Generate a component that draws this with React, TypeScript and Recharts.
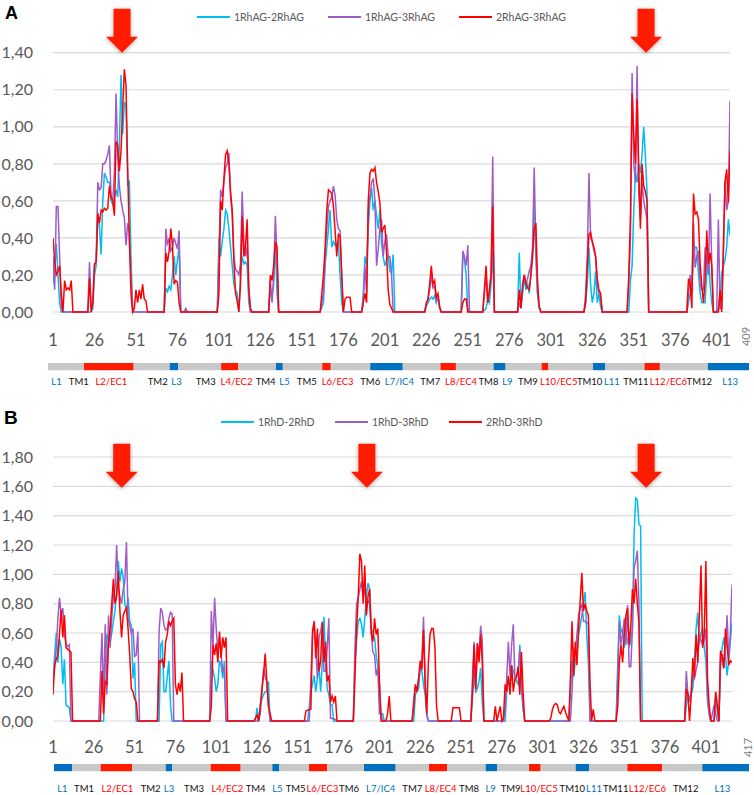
import React from "react";
import { Bar, BarChart, CartesianGrid, Line, LineChart, ReferenceDot, XAxis, YAxis } from "recharts";

type Pt = [number, number];

// ---- panel A: RhAG trimer, 409 residues ----
const rhagLength = 409;
const rhagXTicks = [1, 26, 51, 76, 101, 126, 151, 176, 201, 226, 251, 276, 301, 326, 351, 376, 401];
const rhagYTicks = [0, 0.2, 0.4, 0.6, 0.8, 1.0, 1.2, 1.4];
const rhagNames = ["1RhAG-2RhAG", "1RhAG-3RhAG", "2RhAG-3RhAG"];
const rhagArrows = [42.6, 358.4];
const rhagArrowTip = 1.4;

const rhag12: Pt[] = [
  [1, 0.15], [2, 0.22], [3, 0.37], [4, 0.2], [5, 0.05], [6, 0],
  [24, 0], [25, 0.02], [26, 0.2], [27, 0.25], [28, 0.54], [29, 0.46], [30, 0.31], [31, 0.6], [32, 0.75], [33, 0.73], [34, 0.7], [35, 0.7], [36, 0.6], [37, 0.58], [38, 0.62], [39, 0.66], [40, 0.62], [41, 0.9], [42, 1.28], [43, 0.96], [44, 1.13], [45, 1.12], [46, 0.68], [47, 0.71], [48, 0.3], [49, 0],
  [68, 0], [69, 0.13], [70, 0.11], [71, 0.14], [72, 0.12], [73, 0.2], [74, 0.3], [75, 0.2], [76, 0.28], [77, 0.35], [78, 0],
  [100, 0], [101, 0.4], [102, 0.3], [103, 0.38], [104, 0.45], [105, 0.55], [106, 0.53], [107, 0.45], [108, 0.35], [109, 0.25], [110, 0.15], [111, 0.12], [112, 0.1], [113, 0], [114, 0.2], [115, 0.3], [116, 0.26], [117, 0.27], [118, 0.25], [119, 0.05], [120, 0],
  [131, 0], [132, 0.13], [133, 0.08], [134, 0.15], [135, 0.37], [136, 0.1], [137, 0],
  [162, 0], [164, 0.05], [165, 0.25], [166, 0.35], [167, 0.45], [168, 0.55], [169, 0.35], [170, 0.38], [171, 0.36], [172, 0.37], [173, 0.38], [174, 0.2], [175, 0.05], [176, 0],
  [187, 0], [188, 0.1], [189, 0.3], [190, 0.25], [191, 0.45], [192, 0.6], [193, 0.67], [194, 0.55], [195, 0.6], [196, 0.52], [197, 0.45], [198, 0.55], [199, 0.37], [200, 0.3], [201, 0.25], [202, 0.28], [203, 0.3], [204, 0.22], [205, 0.21], [206, 0.31], [207, 0],
  [225, 0], [226, 0.03], [227, 0.05], [228, 0.07], [229, 0.08], [230, 0.07], [231, 0.09], [232, 0.05], [233, 0.08], [234, 0.02], [235, 0],
  [247, 0], [248, 0.32], [249, 0.28], [250, 0.2], [251, 0.02], [252, 0],
  [260, 0], [262, 0.02], [263, 0.07], [264, 0.05], [265, 0.15], [266, 0.33], [267, 0],
  [281, 0], [282, 0.32], [283, 0.02], [284, 0.1], [285, 0.18], [286, 0.12], [287, 0.16], [288, 0.1], [289, 0.2], [290, 0.3], [291, 0.57], [292, 0.3], [293, 0.1], [294, 0.02], [295, 0],
  [321, 0], [322, 0.05], [323, 0.15], [324, 0.35], [325, 0.15], [326, 0.05], [327, 0.1], [328, 0.22], [329, 0.05], [330, 0.1], [331, 0.03], [332, 0],
  [348, 0], [349, 0.17], [350, 0.25], [351, 0.55], [352, 0.75], [353, 0.7], [354, 0.8], [355, 0.75], [356, 0.85], [357, 1.0], [358, 0.84], [359, 0.65], [360, 0],
  [383, 0], [384, 0.05], [385, 0.1], [386, 0.12], [387, 0.3], [388, 0.35], [389, 0.35], [390, 0.21], [391, 0.1], [392, 0.05], [393, 0.05], [394, 0.05], [395, 0.21], [396, 0.35], [397, 0.15], [398, 0.05], [399, 0], [401, 0], [402, 0.02], [403, 0.1], [404, 0.21], [405, 0.25], [406, 0.28], [407, 0.35], [408, 0.5], [409, 0.41],
];

const rhag13: Pt[] = [
  [1, 0.3], [2, 0.12], [3, 0.57], [4, 0.57], [5, 0.3], [6, 0.02], [7, 0],
  [22, 0], [23, 0.27], [24, 0.02], [25, 0.05], [26, 0.25], [27, 0.27], [28, 0.7], [29, 0.66], [30, 0.67], [31, 0.8], [32, 0.8], [33, 0.82], [34, 0.85], [35, 0.9], [36, 0.62], [37, 0.6], [38, 0.75], [39, 1.18], [40, 0.84], [41, 0.68], [42, 0.6], [43, 0.55], [44, 0.51], [45, 0.36], [46, 0.48], [47, 0.43], [48, 0.2], [49, 0.02], [50, 0],
  [68, 0], [69, 0.45], [70, 0.36], [71, 0.4], [72, 0.33], [73, 0.35], [74, 0.4], [75, 0.37], [76, 0.34], [77, 0.44], [78, 0], [80, 0], [81, 0.02], [82, 0],
  [100, 0], [101, 0.3], [102, 0.66], [103, 0.62], [104, 0.7], [105, 0.78], [106, 0.8], [107, 0.86], [108, 0.62], [109, 0.53], [110, 0.3], [111, 0.23], [112, 0.22], [113, 0.2], [114, 0.26], [115, 0.65], [116, 0.38], [117, 0.3], [118, 0.35], [119, 0.1], [120, 0],
  [131, 0], [132, 0.17], [133, 0.05], [134, 0.2], [135, 0.52], [136, 0.3], [137, 0],
  [162, 0], [164, 0.1], [165, 0.3], [166, 0.45], [167, 0.57], [168, 0.6], [169, 0.62], [170, 0.68], [171, 0.63], [172, 0.5], [173, 0.45], [174, 0.44], [175, 0.2], [176, 0],
  [187, 0], [188, 0.05], [189, 0.25], [190, 0.1], [191, 0.55], [192, 0.62], [193, 0.7], [194, 0.72], [195, 0.6], [196, 0.25], [197, 0.34], [198, 0.45], [199, 0.5], [200, 0.3], [201, 0.38], [202, 0.42], [203, 0.3], [204, 0.3], [205, 0.21], [206, 0],
  [225, 0], [226, 0.04], [227, 0.07], [228, 0.12], [229, 0.2], [230, 0.13], [231, 0.14], [232, 0.06], [233, 0.08], [234, 0.02], [235, 0],
  [247, 0], [248, 0.33], [249, 0.3], [250, 0.25], [251, 0.36], [252, 0],
  [260, 0], [262, 0.2], [263, 0.05], [264, 0.1], [265, 0.2], [266, 0.84], [267, 0],
  [281, 0], [282, 0.05], [283, 0.02], [284, 0.12], [285, 0.2], [286, 0.15], [287, 0.18], [288, 0.22], [289, 0.25], [290, 0.35], [291, 0.78], [292, 0.35], [293, 0.1], [294, 0.03], [295, 0],
  [321, 0], [322, 0.1], [323, 0.3], [324, 0.75], [325, 0.4], [326, 0.38], [327, 0.33], [328, 0.3], [329, 0.15], [330, 0.1], [331, 0.08], [332, 0],
  [347, 0], [348, 0.15], [349, 0.4], [350, 1.29], [351, 0.8], [352, 0.7], [353, 1.33], [354, 0.64], [355, 0.5], [356, 0.7], [357, 0.6], [358, 0.55], [359, 0.5], [360, 0],
  [383, 0], [384, 0.1], [385, 0.2], [386, 0.1], [387, 0.48], [388, 0.24], [389, 0.3], [390, 0.33], [391, 0.15], [392, 0.12], [393, 0.12], [394, 0.35], [395, 0.26], [396, 0.2], [397, 0.64], [398, 0.26], [399, 0], [401, 0], [402, 0.5], [403, 0.02], [404, 0.02], [405, 0.3], [406, 0.71], [407, 0.55], [408, 0.6], [409, 1.14],
];

const rhag23: Pt[] = [
  [1, 0.4], [2, 0.28], [3, 0.2], [4, 0.22], [5, 0.25], [6, 0.1], [7, 0], [8, 0.17], [9, 0.12], [10, 0.13], [11, 0.12], [12, 0.17], [13, 0],
  [22, 0], [23, 0.18], [24, 0], [25, 0.05], [26, 0.26], [27, 0.27], [28, 0.53], [29, 0.48], [30, 0.55], [31, 0.54], [32, 0.56], [33, 0.55], [34, 0.56], [35, 0.68], [36, 0.62], [37, 0.6], [38, 0.52], [39, 0.92], [40, 0.9], [41, 0.76], [42, 0.87], [43, 1.1], [44, 1.31], [45, 1.22], [46, 0.78], [47, 0.4], [48, 0.1], [49, 0], [50, 0.02], [51, 0.12], [52, 0.05], [53, 0.12], [54, 0.07], [55, 0.15], [56, 0.07], [57, 0.06], [58, 0],
  [68, 0], [69, 0.32], [70, 0.27], [71, 0.33], [72, 0.45], [73, 0.36], [74, 0.15], [75, 0.17], [76, 0.16], [77, 0.05], [78, 0],
  [100, 0], [101, 0.1], [102, 0.6], [103, 0.55], [104, 0.72], [105, 0.85], [106, 0.87], [107, 0.8], [108, 0.65], [109, 0.55], [110, 0.28], [111, 0.1], [112, 0.06], [113, 0], [114, 0.15], [115, 0.52], [116, 0.3], [117, 0.35], [118, 0.5], [119, 0.13], [120, 0.02], [121, 0],
  [131, 0], [132, 0.2], [133, 0.17], [134, 0.25], [135, 0.38], [136, 0.35], [137, 0],
  [162, 0], [163, 0.1], [164, 0.2], [165, 0.35], [166, 0.55], [167, 0.66], [168, 0.65], [169, 0.64], [170, 0.57], [171, 0.44], [172, 0.3], [173, 0.42], [174, 0.41], [175, 0.2], [176, 0], [177, 0.07], [178, 0.08], [180, 0.08], [181, 0],
  [187, 0], [188, 0.05], [189, 0.1], [190, 0.05], [191, 0.6], [192, 0.75], [193, 0.77], [194, 0.76], [195, 0.78], [196, 0.7], [197, 0.65], [198, 0.59], [199, 0.43], [200, 0.45], [201, 0.47], [202, 0.32], [203, 0.12], [204, 0.04], [205, 0.02], [206, 0],
  [225, 0], [226, 0.05], [227, 0.07], [228, 0.15], [229, 0.25], [230, 0.15], [231, 0.17], [232, 0.08], [233, 0.1], [234, 0.03], [235, 0],
  [247, 0], [248, 0.05], [249, 0.07], [250, 0.07], [251, 0],
  [260, 0], [262, 0.25], [263, 0.05], [264, 0.12], [265, 0.2], [266, 0.57], [267, 0],
  [281, 0], [282, 0.12], [283, 0.02], [284, 0.15], [285, 0.2], [286, 0.15], [287, 0.13], [288, 0.12], [289, 0.2], [290, 0.3], [291, 0.45], [292, 0.48], [293, 0.17], [294, 0.03], [295, 0],
  [321, 0], [322, 0.05], [323, 0.25], [324, 0.42], [325, 0.43], [326, 0.38], [327, 0.35], [328, 0.3], [329, 0.18], [330, 0.12], [331, 0.1], [332, 0],
  [347, 0], [348, 0.2], [349, 0.5], [350, 1.18], [351, 0.96], [352, 0.8], [353, 1.15], [354, 0.78], [355, 0.45], [356, 0.8], [357, 0.68], [358, 0.65], [359, 0.6], [360, 0],
  [383, 0], [384, 0.18], [385, 0.15], [386, 0.02], [387, 0.64], [388, 0.53], [389, 0.54], [390, 0.5], [391, 0.26], [392, 0.14], [393, 0.05], [394, 0.17], [395, 0.44], [396, 0.26], [397, 0.32], [398, 0.25], [399, 0], [402, 0], [403, 0.12], [404, 0], [405, 0.35], [406, 0.7], [407, 0.77], [408, 0.59], [409, 0.87],
];

// ---- panel B: RhD trimer, 417 residues ----
const rhdLength = 417;
const rhdXTicks = [1, 26, 51, 76, 101, 126, 151, 176, 201, 226, 251, 276, 301, 326, 351, 376, 401];
const rhdYTicks = [0, 0.2, 0.4, 0.6, 0.8, 1.0, 1.2, 1.4, 1.6, 1.8];
const rhdNames = ["1RhD-2RhD", "1RhD-3RhD", "2RhD-3RhD"];
const rhdArrows = [43.1, 193.3, 364.4];
const rhdArrowTip = 1.59;

const rhd12: Pt[] = [
  [1, 0.26], [2, 0.45], [3, 0.6], [4, 0.4], [5, 0.56], [6, 0.5], [7, 0.25], [8, 0.42], [9, 0.11], [10, 0.1], [11, 0.09], [12, 0],
  [32, 0], [33, 0.4], [34, 0.59], [35, 0.55], [36, 0.54], [37, 0.6], [38, 0.68], [39, 0.75], [40, 0.9], [41, 1.09], [42, 0.95], [43, 1.04], [44, 0.98], [45, 0.8], [46, 0.75], [47, 0.84], [48, 0.68], [49, 0.65], [50, 0.29], [51, 0.4], [52, 0],
  [66, 0], [67, 0.52], [68, 0.54], [69, 0.2], [70, 0.2], [71, 0.3], [72, 0.41], [73, 0.11], [74, 0],
  [97, 0], [98, 0.41], [99, 0.35], [100, 0.29], [101, 0.2], [102, 0.25], [103, 0.41], [104, 0.38], [105, 0.29], [106, 0.41], [107, 0],
  [125, 0], [126, 0.09], [127, 0], [128, 0.11], [129, 0.15], [130, 0.18], [131, 0.2], [132, 0.2], [133, 0.27], [134, 0],
  [157, 0], [158, 0.1], [159, 0.2], [160, 0.25], [161, 0.31], [162, 0.2], [163, 0.3], [164, 0.36], [165, 0.2], [166, 0.41], [167, 0.71], [168, 0.41], [169, 0.22], [170, 0.18], [171, 0.11], [172, 0.11], [173, 0],
  [185, 0], [186, 0.41], [187, 0.55], [188, 0.68], [189, 0.7], [190, 0.66], [191, 0.57], [192, 0.7], [193, 0.85], [194, 0.94], [195, 0.9], [196, 0.63], [197, 0.6], [198, 0.57], [199, 0.45], [200, 0.37], [201, 0.25], [202, 0.05], [203, 0.05], [204, 0],
  [222, 0], [223, 0.18], [224, 0.2], [225, 0.22], [226, 0.37], [227, 0.34], [228, 0.25], [229, 0.18], [230, 0.05], [231, 0],
  [257, 0], [258, 0.15], [259, 0.34], [260, 0.2], [261, 0.22], [262, 0.27], [263, 0.36], [264, 0.13], [265, 0],
  [278, 0], [279, 0.2], [280, 0.29], [281, 0.25], [282, 0.38], [283, 0.34], [284, 0.3], [285, 0.27], [286, 0.25], [287, 0.52], [288, 0.22], [289, 0.08], [290, 0],
  [317, 0], [318, 0.18], [319, 0.41], [320, 0.3], [321, 0.41], [322, 0.45], [323, 0.59], [324, 0.65], [325, 0.72], [326, 0.8], [327, 0.88], [328, 0.59], [329, 0.4], [330, 0],
  [346, 0], [347, 0.4], [348, 0.72], [349, 0.6], [350, 0.63], [351, 0.5], [352, 0.59], [353, 0.55], [354, 0.5], [355, 0.55], [356, 0.63], [357, 1.27], [358, 1.52], [359, 1.51], [360, 1.34], [361, 1.33], [362, 0],
  [388, 0], [389, 0.1], [390, 0.2], [391, 0.15], [392, 0.18], [393, 0.22], [394, 0.4], [395, 0.63], [396, 0.74], [397, 0.52], [398, 0.6], [399, 0.63], [400, 0.5], [401, 0.41], [402, 0.13], [403, 0.05], [404, 0], [406, 0], [407, 0.18], [408, 0.06], [409, 0], [410, 0.41], [411, 0.5], [412, 0.57], [413, 0.45], [414, 0.31], [415, 0.41], [416, 0.55], [417, 0.67],
];

const rhd13: Pt[] = [
  [1, 0.3], [2, 0.36], [3, 0.5], [4, 0.7], [5, 0.84], [6, 0.72], [7, 0.77], [8, 0.59], [9, 0.52], [10, 0.51], [11, 0.52], [12, 0],
  [29, 0], [30, 0.3], [31, 0.6], [32, 0.11], [33, 0.66], [34, 0.18], [35, 0.72], [36, 0.5], [37, 0.7], [38, 0.85], [39, 0.9], [40, 1.2], [41, 0.9], [42, 0.85], [43, 0.8], [44, 0.9], [45, 0.95], [46, 1.22], [47, 0.7], [48, 0.65], [49, 0.6], [50, 0.63], [51, 0.44], [52, 0.45], [53, 0.61], [54, 0],
  [65, 0], [66, 0.61], [67, 0.77], [68, 0.74], [69, 0.65], [70, 0.62], [71, 0.63], [72, 0.7], [73, 0.74], [74, 0.73], [75, 0],
  [97, 0], [98, 0.75], [99, 0.5], [100, 0.84], [101, 0.63], [102, 0.47], [103, 0.57], [104, 0.45], [105, 0.34], [106, 0.36], [107, 0],
  [127, 0], [128, 0.05], [129, 0.2], [130, 0.36], [131, 0.3], [132, 0.27], [133, 0.11], [134, 0],
  [158, 0], [159, 0.29], [160, 0.59], [161, 0.68], [162, 0.5], [163, 0.29], [164, 0.57], [165, 0.61], [166, 0.68], [167, 0.34], [168, 0.34], [169, 0.5], [170, 0.7], [171, 0.02], [174, 0.01], [175, 0],
  [185, 0], [186, 0.5], [187, 0.8], [188, 0.84], [189, 0.9], [190, 0.95], [191, 0.85], [192, 0.9], [193, 0.8], [194, 0.82], [195, 0.8], [196, 0.6], [197, 0.47], [198, 0.45], [199, 0.31], [200, 0.36], [201, 0.05], [202, 0.05], [203, 0],
  [221, 0], [222, 0.15], [223, 0.24], [224, 0.2], [225, 0.29], [226, 0.35], [227, 0.43], [228, 0.71], [229, 0.29], [230, 0.04], [231, 0],
  [257, 0], [258, 0.3], [259, 0.54], [260, 0.2], [261, 0.53], [262, 0.45], [263, 0.65], [264, 0.55], [265, 0],
  [277, 0], [278, 0.1], [279, 0.3], [280, 0.54], [281, 0.31], [282, 0.52], [283, 0.66], [284, 0.29], [285, 0.31], [286, 0.34], [287, 0.49], [288, 0.27], [289, 0.1], [290, 0],
  [318, 0], [319, 0.2], [320, 0.5], [321, 0.45], [322, 0.59], [323, 0.72], [324, 0.77], [325, 0.8], [326, 0.68], [327, 0.68], [328, 0.67], [329, 0.67], [330, 0],
  [346, 0], [347, 0.3], [348, 0.68], [349, 0.52], [350, 0.6], [351, 0.7], [352, 0.52], [353, 0.79], [354, 0.37], [355, 0.37], [356, 0.63], [357, 1.05], [358, 1.09], [359, 1.16], [360, 0.8], [361, 0],
  [388, 0], [389, 0.34], [390, 0.18], [391, 0.13], [392, 0.2], [393, 0.31], [394, 0.29], [395, 0.35], [396, 0.4], [397, 0.59], [398, 0.55], [399, 0.52], [400, 0.55], [401, 0.63], [402, 0.18], [403, 0.05], [404, 0], [405, 0.05], [406, 0.11], [407, 0.05], [408, 0], [409, 0], [410, 0.47], [411, 0.4], [412, 0.36], [413, 0.5], [414, 0.72], [415, 0.41], [416, 0.6], [417, 0.93],
];

const rhd23: Pt[] = [
  [1, 0.18], [2, 0.38], [3, 0.42], [4, 0.45], [5, 0.6], [6, 0.76], [7, 0.57], [8, 0.72], [9, 0.5], [10, 0.49], [11, 0.48], [12, 0.47], [13, 0],
  [30, 0], [31, 0.34], [32, 0.05], [33, 0.27], [34, 0.25], [35, 0.52], [36, 0.63], [37, 0.8], [38, 0.97], [39, 0.8], [40, 0.85], [41, 1.02], [42, 0.75], [43, 0.57], [44, 0.72], [45, 0.75], [46, 0.77], [47, 0.63], [48, 0.45], [49, 0.22], [50, 0.2], [51, 0.15], [52, 0.13], [53, 0],
  [65, 0], [66, 0.41], [67, 0.4], [68, 0.42], [69, 0.36], [70, 0.54], [71, 0.59], [72, 0.68], [73, 0.65], [74, 0.68], [75, 0.7], [76, 0.25], [77, 0.18], [78, 0.26], [79, 0.2], [80, 0.33], [81, 0],
  [97, 0], [98, 0.1], [99, 0.52], [100, 0.45], [101, 0.53], [102, 0.4], [103, 0.61], [104, 0.43], [105, 0.57], [106, 0.5], [107, 0.57], [108, 0],
  [124, 0], [126, 0.04], [127, 0], [128, 0.1], [129, 0.22], [130, 0.31], [131, 0.46], [132, 0.27], [133, 0.1], [134, 0.05], [135, 0],
  [155, 0], [156, 0.07], [159, 0.08], [160, 0.61], [161, 0.68], [162, 0.43], [163, 0.63], [164, 0.34], [165, 0.41], [166, 0.67], [167, 0.4], [168, 0.54], [169, 0.27], [170, 0.31], [171, 0.13], [172, 0.17], [173, 0.13], [174, 0.17], [175, 0],
  [185, 0], [186, 0.3], [187, 0.63], [188, 0.84], [189, 1.14], [190, 1.09], [191, 0.8], [192, 1.06], [193, 0.72], [194, 0.85], [195, 0.9], [196, 0.6], [197, 0.54], [198, 0.7], [199, 0.59], [200, 0.63], [201, 0.27], [202, 0], [205, 0], [206, 0.05], [207, 0.17], [208, 0],
  [221, 0], [222, 0.1], [223, 0.25], [224, 0.2], [225, 0.29], [226, 0.41], [227, 0.35], [228, 0.62], [229, 0.25], [230, 0.05], [231, 0.4], [232, 0.59], [233, 0.63], [234, 0.63], [235, 0.5], [236, 0.1], [237, 0],
  [245, 0], [246, 0.09], [250, 0.09], [251, 0],
  [257, 0], [258, 0.2], [259, 0.52], [260, 0.22], [261, 0.53], [262, 0.4], [263, 0.59], [264, 0.4], [265, 0],
  [271, 0], [272, 0.1], [273, 0], [275, 0.1], [276, 0], [277, 0.02], [278, 0.25], [279, 0.2], [280, 0.31], [281, 0.18], [282, 0.38], [283, 0.2], [284, 0.28], [285, 0.3], [286, 0.37], [287, 0.18], [288, 0.47], [289, 0.2], [290, 0],
  [305, 0], [306, 0.02], [307, 0.08], [308, 0.11], [309, 0.12], [310, 0.11], [311, 0.06], [312, 0.05], [313, 0.08], [314, 0.1], [315, 0.06], [316, 0.03], [317, 0], [318, 0.29], [319, 0.68], [320, 0.31], [321, 0.54], [322, 0.38], [323, 0.63], [324, 0.82], [325, 1.01], [326, 0.75], [327, 0.8], [328, 0.75], [329, 0.72], [330, 0.26], [331, 0], [332, 0.08], [333, 0],
  [346, 0], [347, 0.1], [348, 0.4], [349, 0.52], [350, 0.4], [351, 0.59], [352, 0.72], [353, 0.77], [354, 0.52], [355, 0.65], [356, 0.9], [357, 0.8], [358, 0.97], [359, 0.8], [360, 0.67], [361, 0],
  [388, 0], [389, 0.22], [390, 0.18], [391, 0], [392, 0.18], [393, 0.43], [394, 0.3], [395, 0.59], [396, 0.4], [397, 0.72], [398, 1.06], [399, 0.5], [400, 0.6], [401, 1.09], [402, 0.29], [403, 0.11], [404, 0], [406, 0], [407, 0.2], [408, 0.11], [409, 0], [410, 0.47], [411, 0.45], [412, 0.36], [413, 0.63], [414, 0.52], [415, 0.38], [416, 0.41], [417, 0.4],
];

// ---- topology bars (segment lengths in residues) ----
const topoNames = ["L1", "TM1", "L2/EC1", "TM2", "L3", "TM3", "L4/EC2", "TM4", "L5", "TM5", "L6/EC3", "TM6", "L7/IC4", "TM7", "L8/EC4", "TM8", "L9", "TM9", "L10/EC5", "TM10", "L11", "TM11", "L12/EC6", "TM12", "L13"];
const rhagTopoLens = [21, 29, 21, 5, 25, 10, 22, 4, 23, 5, 23, 19, 22, 9, 22, 7, 21, 4, 26, 7, 23, 9, 28, 24];
const rhagTopoKinds = "grgbgrgbgrgbgrgbgrgbgrgb".split("");
const rhagTopoLabelPos = [5, 18, 37, 64, 75, 92, 110, 127, 138, 151, 169, 188, 205, 223, 241, 257, 268, 280, 298, 316, 329, 343, 362, 380, 398];
const rhdTopoLens = [11, 17, 19, 20, 4, 23, 18, 19, 4, 18, 11, 22, 19, 20, 11, 23, 7, 19, 7, 21, 8, 23, 21, 24, 28];
const rhdTopoKinds = "bgrgbgrgbgrgbgrgbgrgbgrgb".split("");
const rhdTopoLabelPos = [5, 18, 38, 58, 69, 84, 104, 121, 134, 145, 161, 177, 196, 215, 232, 249, 262, 274, 291, 311, 324, 337, 356, 379, 401];

const lineColors = ["#00BDF2", "#A05CC6", "#FF0000"];
const segColors: Record<string, string> = { g: "#C8C8C8", r: "#FF1A00", b: "#0070C0" };
const FONT = "Lato, 'Noto Sans', sans-serif";

const toPts = (s: Pt[]) => s.map(([r, v]) => ({ r, v }));
const fmt = (v: number) => v.toFixed(2).replace(".", ",");
const labelColor = (n: string) => (n.startsWith("TM") ? "#111111" : n.includes("/EC") ? "#FF0000" : "#0070C0");

const Arrow = (p: any) => {
  const { cx, cy, fid } = p;
  const sw = 8.5, hw = 16, hh = 16, tot = 44;
  const pts = [
    [cx - sw, cy - tot], [cx + sw, cy - tot], [cx + sw, cy - hh], [cx + hw, cy - hh],
    [cx, cy], [cx - hw, cy - hh], [cx - sw, cy - hh],
  ].map((q) => q.join(",")).join(" ");
  return <polygon points={pts} fill="#FF1A00" filter={`url(#${fid})`} />;
};

function makeXTick(length: number, endDy: number) {
  return (p: any) => {
    const { x, y, payload } = p;
    if (payload.value === length) {
      return (
        <text transform={`translate(${x + 15},${y + endDy}) rotate(-90)`} textAnchor="middle" dominantBaseline="central" fontSize={11} fill="#7F7F7F" fontFamily={FONT}>
          {length}
        </text>
      );
    }
    return (
      <text x={x} y={y} dy="0.72em" textAnchor="middle" fontSize={16.5} fill="#595959" fontFamily={FONT}>
        {payload.value}
      </text>
    );
  };
}

function Legend({ top, left, names, itemW }: { top: number; left: number; names: string[]; itemW: number }) {
  return (
    <div style={{ position: "absolute", top, left, display: "flex", alignItems: "center", height: 14, fontFamily: FONT, fontSize: 10.5, color: "#595959" }}>
      {names.map((n, i) => (
        <div key={n} style={{ display: "flex", alignItems: "center", width: itemW }}>
          <span style={{ display: "inline-block", width: 33, height: 2, background: lineColors[i], marginRight: 4 }} />
          <span>{n}</span>
        </div>
      ))}
    </div>
  );
}

function Trace(props: {
  top: number; height: number; margin: { top: number; right: number; bottom: number; left: number };
  length: number; yMax: number; yTicks: number[]; xTicks: number[]; series: Pt[][];
  arrows: number[]; arrowTip: number; tickGap: number; endDy: number; fid: string;
}) {
  const { top, height, margin, length, yMax, yTicks, xTicks, series, arrows, arrowTip, tickGap, endDy, fid } = props;
  return (
    <div style={{ position: "absolute", left: 0, top }}>
      <LineChart width={754} height={height} margin={margin}>
        <defs>
          <filter id={fid} x="-50%" y="-50%" width="200%" height="200%">
            <feDropShadow dx="0" dy="1" stdDeviation="2" floodColor="#000" floodOpacity="0.35" />
          </filter>
        </defs>
        <CartesianGrid vertical={false} stroke="#D9D9D9" strokeWidth={1.2} />
        <XAxis
          dataKey="r" type="number" domain={[1, length]} ticks={[...xTicks, length]} interval={0}
          axisLine={false} tickLine={false} tickSize={0} tickMargin={tickGap} height={30}
          tick={makeXTick(length, endDy)} allowDataOverflow
        />
        <YAxis
          type="number" domain={[0, yMax]} ticks={yTicks} interval={0} width={45}
          axisLine={false} tickLine={false} tickSize={0} tickMargin={20} tickFormatter={fmt}
          tick={{ fontSize: 16, fill: "#595959", fontFamily: FONT }}
        />
        {series.map((s, i) => (
          <Line key={i} data={toPts(s)} dataKey="v" type="linear" stroke={lineColors[i]} strokeWidth={1.5} dot={false} activeDot={false} isAnimationActive={false} />
        ))}
        {arrows.map((a) => (
          <ReferenceDot key={a} x={a} y={arrowTip} r={0} ifOverflow="visible" shape={(p: any) => <Arrow {...p} fid={fid} />} />
        ))}
      </LineChart>
    </div>
  );
}

function Topology(props: {
  top: number; left: number; right: number; lens: number[]; kinds: string[];
  total: number; labelPos: number[]; labelDy: number;
}) {
  const { top, left, right, lens, kinds, total, labelPos, labelDy } = props;
  const row: Record<string, any> = { name: "topo" };
  lens.forEach((l, i) => (row["s" + i] = l));
  const tick = (p: any) => {
    const i = labelPos.indexOf(p.payload.value);
    const n = topoNames[i];
    return (
      <text x={p.x} y={p.y + labelDy} textAnchor="middle" fontSize={9.5} fill={labelColor(n)} fontFamily={FONT}>
        {n}
      </text>
    );
  };
  return (
    <div style={{ position: "absolute", left: 0, top }}>
      <BarChart width={754} height={42} data={[row]} layout="vertical" margin={{ top: 11, right, bottom: 3, left }} barCategoryGap={0}>
        <XAxis type="number" domain={[0, total]} ticks={labelPos} interval={0} axisLine={false} tickLine={false} tickSize={0} tickMargin={0} height={20} tick={tick} allowDataOverflow />
        <YAxis type="category" dataKey="name" hide />
        {lens.map((_, i) => (
          <Bar key={i} dataKey={"s" + i} stackId="t" fill={segColors[kinds[i]]} barSize={8} isAnimationActive={false} />
        ))}
      </BarChart>
    </div>
  );
}

export default function App() {
  return (
    <div style={{ position: "absolute", left: 0, top: 0, width: 754, height: 795, background: "#fff", overflow: "hidden", fontFamily: FONT }}>
      <div style={{ position: "absolute", left: 5, top: 3, fontFamily: "'Liberation Sans', Arial, sans-serif", fontWeight: 700, fontSize: 18, color: "#000" }}>A</div>
      <Legend top={10} left={197} names={rhagNames} itemW={131} />
      <Trace
        top={0} height={372} margin={{ top: 52.7, right: 24, bottom: 30, left: 8 }}
        length={rhagLength} yMax={1.4} yTicks={rhagYTicks} xTicks={rhagXTicks}
        series={[rhag12, rhag13, rhag23]} arrows={rhagArrows} arrowTip={rhagArrowTip}
        tickGap={22} endDy={2.5} fid="shadowA"
      />
      <Topology top={352} left={48} right={5} lens={rhagTopoLens} kinds={rhagTopoKinds} total={rhagLength} labelPos={rhagTopoLabelPos} labelDy={14} />

      <div style={{ position: "absolute", left: 4, top: 407, fontFamily: "'Liberation Sans', Arial, sans-serif", fontWeight: 700, fontSize: 19, color: "#000" }}>B</div>
      <Legend top={415} left={221} names={rhdNames} itemW={114} />
      <Trace
        top={395} height={372} margin={{ top: 62, right: 22, bottom: 16, left: 8 }}
        length={rhdLength} yMax={1.8} yTicks={rhdYTicks} xTicks={rhdXTicks}
        series={[rhd12, rhd13, rhd23]} arrows={rhdArrows} arrowTip={rhdArrowTip}
        tickGap={20} endDy={6.5} fid="shadowB"
      />
      <Topology top={753} left={54} right={5} lens={rhdTopoLens} kinds={rhdTopoKinds} total={rhdLength} labelPos={rhdTopoLabelPos} labelDy={19.5} />
    </div>
  );
}
